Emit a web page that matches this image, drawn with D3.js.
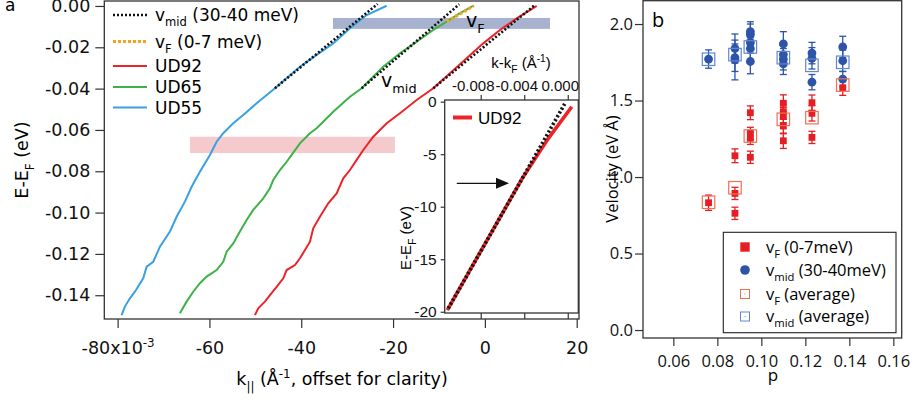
<!DOCTYPE html>
<html><head><meta charset="utf-8">
<script src="https://cdn.jsdelivr.net/npm/d3@7"></script>
<style>
body{margin:0;background:#fff;}
svg{display:block;}
</style></head><body>
<svg id="chart" width="915" height="402"></svg>
<script>
// ---------- Panel a data (k in 10^-3 1/Å, E in eV) ----------
const ud55_k = [-79.13,-78.41,-77.32,-76.23,-74.42,-73.68,-72.24,-70.78,-68.61,-67.15,-65.34,-63.88,-62.07,-59.89,-58.43,-56.99,-54.81,-52.64,-49.72,-45.73,-40.28,-36.64,-33.03,-29.39,-25.75,-21.39];
const ud55_E = [-0.1496,-0.1455,-0.1415,-0.1383,-0.1318,-0.1262,-0.1238,-0.1165,-0.1092,-0.1020,-0.0947,-0.0875,-0.0802,-0.0721,-0.0657,-0.0616,-0.0568,-0.0528,-0.0471,-0.0398,-0.0294,-0.0237,-0.0181,-0.0108,-0.0044,0.0001];
const ud65_k = [-66.43,-64.97,-63.53,-62.07,-60.61,-58.43,-56.99,-56.25,-54.81,-53.36,-51.90,-50.46,-48.28,-46.82,-46.10,-44.64,-43.18,-42.09,-40.28,-38.10,-36.64,-33.03,-29.39,-26.84,-22.14,-18.50,-14.86,-11.24,-8.32,-5.42,-2.53];
const ud65_E = [-0.1487,-0.1431,-0.1383,-0.1342,-0.1310,-0.1278,-0.1238,-0.1189,-0.1149,-0.1092,-0.1036,-0.0987,-0.0931,-0.0882,-0.0842,-0.0794,-0.0754,-0.0721,-0.0665,-0.0616,-0.0592,-0.0512,-0.0439,-0.0398,-0.0294,-0.0229,-0.0173,-0.0116,-0.0076,-0.0035,0.0001];
const ud92_k = [-50.09,-49.37,-47.91,-46.82,-45.36,-43.92,-43.18,-41.37,-40.28,-39.19,-38.10,-37.39,-35.93,-34.12,-32.29,-30.85,-29.39,-27.93,-26.49,-24.31,-21.39,-18.50,-14.86,-11.24,-7.60,-3.97,-0.35,3.29,6.93,11.29];
const ud92_E = [-0.1496,-0.1463,-0.1431,-0.1399,-0.1359,-0.1318,-0.1278,-0.1254,-0.1221,-0.1181,-0.1141,-0.1076,-0.1020,-0.0955,-0.0907,-0.0834,-0.0794,-0.0745,-0.0697,-0.0633,-0.0568,-0.0519,-0.0455,-0.0398,-0.0326,-0.0253,-0.0181,-0.0116,-0.0060,0.0000];
// v_mid fits (start/end)
const vmid55_k = [-45.73,-23.36], vmid55_E = [-0.0398,0.0010];
const vmid65_k = [-26.84,-5.58],  vmid65_E = [-0.0398,0.0008];
const vmid92_k = [-11.24,10.92],  vmid92_E = [-0.0398,0.0005];
// v_F fit (UD65)
const vF65_k = [-8.32,-2.37], vF65_E = [-0.0076,0.0001];
// shaded bands [k0,k1,E0,E1]
const bandBlue = [-33.09,14.18,-0.0058,-0.0111];
const bandPink = [-64.25,-19.59,-0.0633,-0.0712];
const xTicksA = [-80,-60,-40,-20,0,20];
const yTicksA = [0,-0.02,-0.04,-0.06,-0.08,-0.10,-0.12,-0.14];

// ---------- inset data ----------
const inset_k = [-0.01107,-0.00765,-0.00418,-0.00178,0.00037];
const inset_E = [-19.84,-13.6,-7.3,-3.49,-0.48];
const insetFit_k = [-0.01098,-0.00025];
const insetFit_E = [-19.68,-0.15];
const insetXTicks = [-0.008,-0.004,0.000];
const insetXLabels = ["-0.008","-0.004","0.000"];
const insetYTicks = [0,-5,-10,-15,-20];
const arrowE = -7.77, arrowK = [-0.0102,-0.0054];

// ---------- Panel b data ----------
const vF_p   = [0.076,0.088,0.088,0.088,0.095,0.095,0.095,0.095,0.110,0.110,0.110,0.110,0.110,0.123,0.123,0.123,0.137];
const vF_v   = [0.832,0.893,0.763,1.139,1.420,1.285,1.253,1.129,1.482,1.427,1.405,1.333,1.237,1.486,1.416,1.259,1.584];
const vF_err = [0.05,0.04,0.04,0.045,0.045,0.04,0.04,0.04,0.055,0.05,0.05,0.05,0.05,0.05,0.05,0.04,0.05];
const vmid_p   = [0.076,0.088,0.088,0.088,0.095,0.095,0.095,0.095,0.095,0.110,0.110,0.110,0.110,0.123,0.123,0.123,0.137,0.137,0.137];
const vmid_v   = [1.771,1.840,1.780,1.765,1.950,1.930,1.880,1.840,1.755,1.870,1.800,1.770,1.740,1.810,1.776,1.620,1.850,1.760,1.640];
const vmid_err = [0.06,0.095,0.09,0.13,0.065,0.07,0.07,0.07,0.08,0.08,0.07,0.07,0.07,0.07,0.07,0.05,0.07,0.07,0.05];
const avg_p     = [0.076,0.088,0.095,0.110,0.123,0.137];
const vFavg_v   = [0.835,0.930,1.268,1.377,1.388,1.601];
const vmidavg_v = [1.770,1.800,1.850,1.780,1.730,1.750];
const xTicksB = [0.06,0.08,0.10,0.12,0.14,0.16];
const yTicksB = [0.0,0.5,1.0,1.5,2.0];

// ---------- helpers ----------
const svg = d3.select("#chart");
const AX = "#333";
function rich(sel, parts, size){
  let shift = 0;
  parts.forEach(p=>{
    const target = p.sub ? size*0.32 : (p.sup ? -size*0.42 : 0);
    const ts = sel.append("tspan").attr("font-size", (p.sub||p.sup) ? size*0.68 : size).text(p.t);
    if (target-shift !== 0) ts.attr("dy", target-shift);
    shift = target;
  });
}
function styleAxis(g){
  g.selectAll("path.domain").remove();
  g.selectAll(".tick line").attr("stroke", AX).attr("stroke-width",1.2);
  g.selectAll(".tick text").attr("fill","#111");
}

// ================= Panel a =================
const FA = "DejaVu Sans";
const FI = "Liberation Sans";
const xA = d3.scaleLinear().domain([-82.9,20.5]).range([104.3,579]);
const yA = d3.scaleLinear().domain([0.0024,-0.1515]).range([1,319]);
const gA = svg.append("g").attr("font-family",FA);

// bands
gA.append("rect").attr("x",xA(bandBlue[0])).attr("y",yA(bandBlue[2]))
  .attr("width",xA(bandBlue[1])-xA(bandBlue[0])).attr("height",yA(bandBlue[3])-yA(bandBlue[2]))
  .attr("fill","rgb(150,164,198)").attr("opacity",0.85);
gA.append("rect").attr("x",xA(bandPink[0])).attr("y",yA(bandPink[2]))
  .attr("width",xA(bandPink[1])-xA(bandPink[0])).attr("height",yA(bandPink[3])-yA(bandPink[2]))
  .attr("fill","rgb(244,196,200)").attr("opacity",0.9);

const lineA = d3.line().x(d=>xA(d[0])).y(d=>yA(d[1]));
const curves = [
  {k:ud55_k,E:ud55_E,c:"rgb(58,160,225)"},
  {k:ud65_k,E:ud65_E,c:"rgb(60,178,72)"},
  {k:ud92_k,E:ud92_E,c:"rgb(236,36,42)"}
];
curves.forEach(cv=>{
  gA.append("path").attr("d",lineA(cv.k.map((k,i)=>[k,cv.E[i]])))
    .attr("fill","none").attr("stroke",cv.c).attr("stroke-width",2);
});
gA.append("path").attr("d",lineA(vF65_k.map((k,i)=>[k,vF65_E[i]])))
  .attr("fill","none").attr("stroke","#f6a21c").attr("stroke-width",3).attr("stroke-dasharray","3,2");
[[vmid55_k,vmid55_E],[vmid65_k,vmid65_E],[vmid92_k,vmid92_E]].forEach(f=>{
  gA.append("path").attr("d",lineA(f[0].map((k,i)=>[k,f[1][i]])))
    .attr("fill","none").attr("stroke","#111").attr("stroke-width",2.6).attr("stroke-dasharray","2,2");
});

// annotations
const tvF = gA.append("text").attr("x",466).attr("y",27);
rich(tvF,[{t:"v"},{t:"F",sub:true}],19);
const tvm = gA.append("text").attr("x",381).attr("y",87);
rich(tvm,[{t:"v"},{t:"mid",sub:true}],19);

// legend a
const legA = [
  {parts:[{t:"v"},{t:"mid",sub:true},{t:" (30-40 meV)"}], c:"#111", dash:"2,2", w:2.6, y:15},
  {parts:[{t:"v"},{t:"F",sub:true},{t:" (0-7 meV)"}], c:"#f6a21c", dash:"3,2", w:3, y:41.5},
  {parts:[{t:"UD92"}], c:"rgb(236,36,42)", dash:null, w:2, y:66},
  {parts:[{t:"UD65"}], c:"rgb(60,178,72)", dash:null, w:2, y:87},
  {parts:[{t:"UD55"}], c:"rgb(58,160,225)", dash:null, w:2, y:107.5}
];
legA.forEach(L=>{
  gA.append("line").attr("x1",113).attr("x2",147).attr("y1",L.y).attr("y2",L.y)
    .attr("stroke",L.c).attr("stroke-width",L.w).attr("stroke-dasharray",L.dash);
  const t = gA.append("text").attr("x",155).attr("y",L.y+6);
  rich(t,L.parts,17);
});

// axes a
const axLA = gA.append("g").attr("transform","translate(104.3,0)")
  .call(d3.axisLeft(yA).tickValues(yTicksA).tickSize(9).tickPadding(5).tickFormat(d3.format(".2f")));
styleAxis(axLA);
axLA.selectAll(".tick text").attr("font-size",17.5).attr("font-family",FA).text(d=>d3.format(".2f")(d).replace("−","-"));
const axBA = gA.append("g").attr("transform","translate(0,319)")
  .call(d3.axisBottom(xA).tickValues(xTicksA).tickSize(9).tickPadding(14).tickFormat(d=>String(d)));
styleAxis(axBA);
axBA.selectAll(".tick text").attr("font-size",17.5).attr("font-family",FA)
  .each(function(d){ if(d===-80){ const t=d3.select(this); t.text(null); rich(t,[{t:"-80x10"},{t:"-3",sup:true}],17.5);} });
gA.append("rect").attr("x",104.3).attr("y",1).attr("width",474.7).attr("height",318)
  .attr("fill","none").attr("stroke",AX).attr("stroke-width",1.3);

// axis titles a
const xtA = gA.append("text").attr("x",342).attr("y",385).attr("text-anchor","middle");
rich(xtA,[{t:"k"},{t:"||",sub:true},{t:" (Å"},{t:"-1",sup:true},{t:", offset for clarity)"}],17.5);
const ytA = gA.append("text").attr("transform","translate(28,160) rotate(-90)").attr("text-anchor","middle");
rich(ytA,[{t:"E-E"},{t:"F",sub:true},{t:" (eV)"}],17.5);
gA.append("text").attr("x",5).attr("y",11).attr("font-size",17).text("a");

// ================= Inset =================
const xI = d3.scaleLinear().domain([-0.01131,0.00097]).range([444.7,578.3]);
const yI = d3.scaleLinear().domain([0.16,-20.12]).range([100,313]);
const gI = svg.append("g").attr("font-family",FI);
gI.append("rect").attr("x",444.7).attr("y",100).attr("width",133.6).attr("height",213).attr("fill","#fff");
const lineI = d3.line().x(d=>xI(d[0])).y(d=>yI(d[1]));
gI.append("path").attr("d",lineI(inset_k.map((k,i)=>[k,inset_E[i]])))
  .attr("fill","none").attr("stroke","rgb(236,36,42)").attr("stroke-width",3.6);
gI.append("path").attr("d",lineI(insetFit_k.map((k,i)=>[k,insetFit_E[i]])))
  .attr("fill","none").attr("stroke","#111").attr("stroke-width",3.6).attr("stroke-dasharray","2.2,2.2");
// arrow
gI.append("line").attr("x1",xI(arrowK[0])).attr("x2",xI(arrowK[1])-12).attr("y1",yI(arrowE)).attr("y2",yI(arrowE))
  .attr("stroke","#111").attr("stroke-width",1.3);
const ax2 = xI(arrowK[1]), ay = yI(arrowE);
gI.append("path").attr("d",`M${ax2},${ay} L${ax2-13},${ay-5.5} L${ax2-13},${ay+5.5} Z`).attr("fill","#111");
// inset legend
gI.append("line").attr("x1",453).attr("x2",472).attr("y1",117.5).attr("y2",117.5)
  .attr("stroke","rgb(236,36,42)").attr("stroke-width",4);
gI.append("text").attr("x",478).attr("y",123.5).attr("font-size",17).text("UD92");
// inset axes
const axIL = gI.append("g").attr("transform","translate(444.7,0)")
  .call(d3.axisLeft(yI).tickValues(insetYTicks).tickSize(4).tickPadding(4).tickFormat(d=>String(d)));
styleAxis(axIL);
axIL.selectAll(".tick text").attr("font-size",15.5).attr("font-family",FI);
const axIT = gI.append("g").attr("transform","translate(0,100)")
  .call(d3.axisTop(xI).tickValues(insetXTicks).tickSize(5).tickPadding(4).tickFormat((d,i)=>insetXLabels[i]));
styleAxis(axIT);
axIT.selectAll(".tick text").attr("font-size",15).attr("font-family",FI).attr("dx",-8);
const axIB = gI.append("g").attr("transform","translate(0,313)")
  .call(d3.axisBottom(xI).tickValues(insetXTicks).tickSize(6).tickFormat(""));
styleAxis(axIB);
gI.append("rect").attr("x",444.7).attr("y",100).attr("width",133.6).attr("height",213)
  .attr("fill","none").attr("stroke",AX).attr("stroke-width",1.3);
const itx = gI.append("text").attr("x",521).attr("y",68).attr("text-anchor","middle");
rich(itx,[{t:"k-k"},{t:"F",sub:true},{t:" (Å"},{t:"-1",sup:true},{t:")"}],15);
const ity = gI.append("text").attr("transform","translate(411,238) rotate(-90)").attr("text-anchor","middle");
rich(ity,[{t:"E-E"},{t:"F",sub:true},{t:" (eV)"}],15);

// ================= Panel b =================
const FB = "Open Sans";
const xB = d3.scaleLinear().domain([0.0462,0.1638]).range([643,901.7]);
const yB = d3.scaleLinear().domain([-0.052,2.157]).range([338,0]);
const gB = svg.append("g").attr("font-family",FB);
const RED = "rgb(230,30,36)", BLUE = "rgb(46,84,168)", ORED = "rgb(242,110,84)", OBLUE = "rgb(96,135,212)";

function errBars(p,v,e,col){
  p.forEach((pp,i)=>{
    const x = xB(pp), y0 = yB(v[i]-e[i]), y1 = yB(v[i]+e[i]);
    gB.append("line").attr("x1",x).attr("x2",x).attr("y1",y0).attr("y2",y1).attr("stroke",col).attr("stroke-width",1.3);
    [y0,y1].forEach(yy=>gB.append("line").attr("x1",x-3.5).attr("x2",x+3.5).attr("y1",yy).attr("y2",yy).attr("stroke",col).attr("stroke-width",1.3));
  });
}
errBars(vmid_p,vmid_v,vmid_err,BLUE);
errBars(vF_p,vF_v,vF_err,RED);
vmid_p.forEach((pp,i)=>gB.append("circle").attr("cx",xB(pp)).attr("cy",yB(vmid_v[i])).attr("r",4.4).attr("fill",BLUE));
vF_p.forEach((pp,i)=>gB.append("rect").attr("x",xB(pp)-3.4).attr("y",yB(vF_v[i])-3.4).attr("width",6.8).attr("height",6.8).attr("fill",RED));
function openSq(p,v,col,s){
  p.forEach((pp,i)=>{
    gB.append("rect").attr("x",xB(pp)-s/2).attr("y",yB(v[i])-s/2).attr("width",s).attr("height",s)
      .attr("fill","none").attr("stroke",col).attr("stroke-width",1.2);
  });
}
openSq(avg_p,vmidavg_v,OBLUE,12.5);
openSq(avg_p,vFavg_v,ORED,12.5);

const axLB = gB.append("g").attr("transform","translate(643,0)")
  .call(d3.axisLeft(yB).tickValues(yTicksB).tickSize(8).tickPadding(2).tickFormat(d3.format(".1f")));
styleAxis(axLB);
axLB.selectAll(".tick text").attr("font-size",16.5).attr("font-family",FB);
const axBB = gB.append("g").attr("transform","translate(0,338)")
  .call(d3.axisBottom(xB).tickValues(xTicksB).tickSize(8).tickPadding(9).tickFormat(d3.format(".2f")));
styleAxis(axBB);
axBB.selectAll(".tick text").attr("font-size",16.5).attr("font-family",FB);
gB.append("rect").attr("x",643).attr("y",0.7).attr("width",258.7).attr("height",337.3)
  .attr("fill","none").attr("stroke",AX).attr("stroke-width",1.3);
gB.append("text").attr("x",773).attr("y",381).attr("text-anchor","middle").attr("font-size",17).text("p");
gB.append("text").attr("transform","translate(618,169) rotate(-90)").attr("text-anchor","middle")
  .attr("font-size",16.5).text("Velocity (eV Å)");
gB.append("text").attr("x",652).attr("y",27).attr("font-size",20).text("b");

// legend b
gB.append("rect").attr("x",723.3).attr("y",232.3).attr("width",172.7).attr("height",100.4)
  .attr("fill","#fff").attr("stroke","#222").attr("stroke-width",1.1);
const legB = [
  {y:247, parts:[{t:"v"},{t:"F",sub:true},{t:" (0-7meV)"}], sym:"fsq"},
  {y:270, parts:[{t:"v"},{t:"mid",sub:true},{t:" (30-40meV)"}], sym:"circ"},
  {y:294, parts:[{t:"v"},{t:"F",sub:true},{t:" (average)"}], sym:"osqR"},
  {y:316.5, parts:[{t:"v"},{t:"mid",sub:true},{t:" (average)"}], sym:"osqB"}
];
legB.forEach(L=>{
  const x=745;
  if(L.sym==="fsq") gB.append("rect").attr("x",x-4.7).attr("y",L.y-4.7).attr("width",9.4).attr("height",9.4).attr("fill",RED);
  if(L.sym==="circ") gB.append("circle").attr("cx",x).attr("cy",L.y).attr("r",4.8).attr("fill",BLUE);
  if(L.sym==="osqR"||L.sym==="osqB"){
    const col = L.sym==="osqR"?ORED:OBLUE;
    gB.append("rect").attr("x",x-4.5).attr("y",L.y-4.5).attr("width",9).attr("height",9).attr("fill","none").attr("stroke",col).attr("stroke-width",1);
    gB.append("circle").attr("cx",x).attr("cy",L.y).attr("r",0.6).attr("fill",col);
  }
  const t = gB.append("text").attr("x",766).attr("y",L.y+5.5);
  rich(t,L.parts,16.5);
});
</script>
</body></html>
